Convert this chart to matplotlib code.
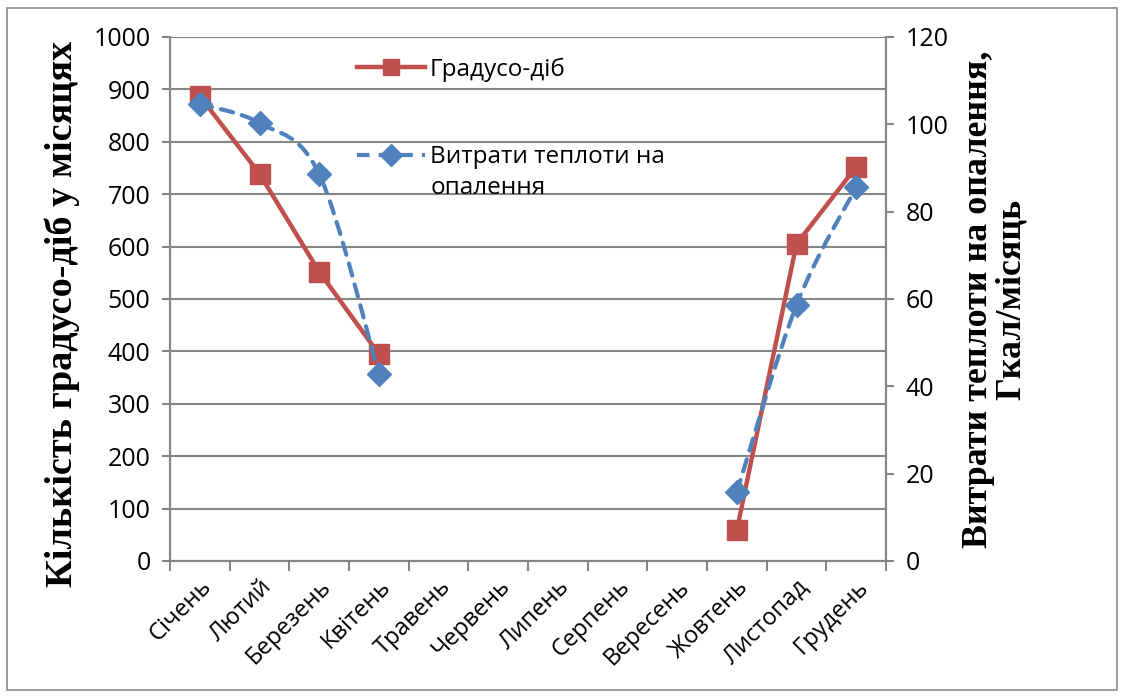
import numpy as np
import matplotlib
matplotlib.use("Agg")
import matplotlib.pyplot as plt
from matplotlib.path import Path
from matplotlib.patches import PathPatch, Rectangle
from matplotlib.lines import Line2D

# Monthly data
months = ["Січень", "Лютий", "Березень", "Квітень", "Травень", "Червень",
          "Липень", "Серпень", "Вересень", "Жовтень", "Листопад", "Грудень"]
degree_days = [887, 739, 552, 395, None, None, None, None, None, 59, 605, 752]
heat_use = [104.6, 100.3, 88.6, 42.8, None, None, None, None, None, 15.8, 58.6, 85.6]

RED = "#C0504D"
BLUE = "#4F81BD"
GRID = "#868686"
TICK_FONT = ["Open Sans", "DejaVu Sans"]
TITLE_FONT = ["Liberation Serif", "DejaVu Serif"]

fig = plt.figure(figsize=(11.23, 6.98), dpi=100)
fig.patches.append(Rectangle((7 / 1123, 1 - 690 / 698), 1110 / 1123, 682 / 698,
                             transform=fig.transFigure, fill=False,
                             edgecolor="#8c8c8c", linewidth=1.2))

ax = fig.add_axes([170 / 1123, 1 - 561 / 698, 716 / 1123, 524 / 698])
ax2 = ax.twinx()

x = np.arange(len(months))


def segments(vals):
    """Split a series with gaps into runs of (x, y) points."""
    runs, cur = [], []
    for i, v in enumerate(vals):
        if v is None:
            if cur:
                runs.append(cur)
            cur = []
        else:
            cur.append((float(i), float(v)))
    if cur:
        runs.append(cur)
    return runs


# Degree-days: straight solid line with square markers
for run in segments(degree_days):
    xs, ys = zip(*run)
    ax.plot(xs, ys, color=RED, linewidth=3.2, marker="s", markersize=14,
            markeredgecolor=RED, zorder=3, solid_capstyle="round")


def smooth_path(run):
    """Cubic Bezier path through points (Catmull-Rom style smoothing)."""
    pts = np.array(run)
    verts = [pts[0]]
    codes = [Path.MOVETO]
    n = len(pts)
    for i in range(n - 1):
        p0, p1 = pts[i], pts[i + 1]
        pm = pts[i - 1] if i > 0 else p0
        pn = pts[i + 2] if i + 2 < n else p1
        c1 = p0 + (p1 - pm) / 6.0
        c2 = p1 - (pn - p0) / 6.0
        verts += [c1, c2, p1]
        codes += [Path.CURVE4] * 3
    return Path(verts, codes)


# Heat consumption: smoothed dashed line with diamond markers (right axis)
for run in segments(heat_use):
    ax2.add_patch(PathPatch(smooth_path(run), facecolor="none", edgecolor=BLUE,
                            linewidth=3.0, linestyle=(0, (3, 2.2)),
                            capstyle="round", zorder=3))
    xs, ys = zip(*run)
    ax2.plot(xs, ys, linestyle="none", marker="D", markersize=12,
             color=BLUE, markeredgecolor=BLUE, zorder=4)

ax.set_xlim(-0.5, 11.5)
ax.set_ylim(0, 1000)
ax.set_yticks(range(0, 1001, 100))
ax2.set_ylim(0, 120)
ax2.set_yticks(range(0, 121, 20))

# Gridlines on the primary axis
ax.set_axisbelow(True)
ax.yaxis.grid(True, color=GRID, linewidth=1.5)
ax.xaxis.grid(False)

for a in (ax, ax2):
    a.spines["top"].set_visible(False)
    for side in ("left", "right", "bottom"):
        a.spines[side].set_color(GRID)
        a.spines[side].set_linewidth(1.5)

ax.set_xticks(np.arange(-0.5, 12, 1.0), minor=False)
ax.set_xticklabels([])
ax.set_xticks(x, minor=True)
ax.set_xticklabels(months, minor=True, rotation=45, ha="right", va="top",
                   rotation_mode="anchor", fontsize=17, family=TICK_FONT)
ax.tick_params(axis="x", which="major", length=7, width=1.5, color=GRID,
               direction="out")
ax.tick_params(axis="x", which="minor", length=0, pad=10)
ax.tick_params(axis="y", length=6, width=1.5, color=GRID, pad=8)
ax2.tick_params(axis="y", length=6, width=1.5, color=GRID, pad=8)
for lbl in ax.get_yticklabels() + ax2.get_yticklabels():
    lbl.set_fontsize(18)
    lbl.set_family(TICK_FONT)

ax.set_ylabel("Кількість градусо-діб у місяцях", fontsize=27.5,
              fontweight="bold", family=TITLE_FONT)
ax.yaxis.set_label_coords((80 - 170) / 716, (561 - 314) / 524)
ax2.set_ylabel("Витрати теплоти на опалення,\nГкал/місяць", fontsize=25.8,
               fontweight="bold", family=TITLE_FONT, labelpad=10,
               linespacing=1.0)

# Legend
h1 = Line2D([], [], color=RED, linewidth=3.2, marker="s", markersize=12)
h2 = Line2D([], [], color=BLUE, linewidth=3.0, linestyle=(0, (3, 2.2)),
            marker="D", markersize=11)
leg = ax2.legend([h1, h2], ["Градусо-діб", "Витрати теплоти на"],
                 loc="upper left", bbox_to_anchor=(345 / 1123, 1 - 45 / 698),
                 bbox_transform=fig.transFigure, frameon=False,
                 prop={"family": TICK_FONT, "size": 17.5}, handlelength=2.8,
                 handletextpad=0.2, labelspacing=2.63, borderpad=0)
fig.text(431 / 1123, 1 - 188 / 698, "опалення", fontsize=17.5, family=TICK_FONT,
         va="center", ha="left")

fig.savefig("out.png", dpi=100)
